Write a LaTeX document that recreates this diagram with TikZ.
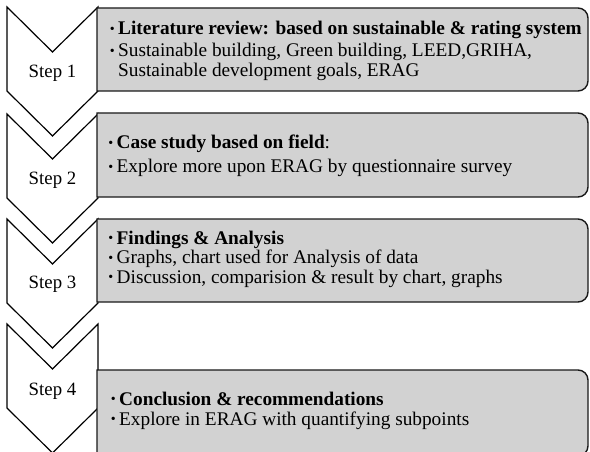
\documentclass[tikz,border=0pt]{standalone}
\usepackage{fontspec}
\setmainfont{Liberation Serif}
\definecolor{boxgray}{RGB}{210,210,210}
\definecolor{edge}{RGB}{25,25,25}
% small bullet hung to the left of a line
\newcommand{\hbul}{\llap{\raisebox{1.3pt}{\fontsize{14}{14}\selectfont\textbullet}\hspace{3.3pt}}}
\tikzset{
  chevron/.style={draw=black, fill=white, line width=1.2pt, line join=miter},
  stagebox/.style={draw=edge, fill=boxgray, line width=1.4pt},
  steplabel/.style={font=\fontsize{18.8}{20}\selectfont, inner sep=0pt, anchor=base},
  itemline/.style={font=\fontsize{19.3}{22}\selectfont, inner sep=0pt, anchor=base west}
}
\begin{document}
\begin{tikzpicture}[x=1pt,y=-1pt]
\useasboundingbox (0,0) rectangle (590,452);
\fill[white] (0,0) rectangle (590,452);

% chevrons: top corners at y=t, notch at t+45, sides down to t+84, tip at t+129
\foreach \t/\n in {7/1,114/2,219/3,324/4}{
  \draw[chevron] (7,\t) -- (52.5,\t+45) -- (98,\t) -- (98,\t+84) -- (52.5,\t+129) -- (7,\t+84) -- cycle;
}

% stage boxes, rounded on the right only
\draw[stagebox] (97,8) [rounded corners=10pt] -- (588,8) -- (588,91) [sharp corners] -- (97,91) -- cycle;
\draw[stagebox] (97,113) [rounded corners=10pt] -- (588,113) -- (588,197) [sharp corners] -- (97,197) -- cycle;
\draw[stagebox] (97,219) [rounded corners=10pt] -- (588,219) -- (588,302) [sharp corners] -- (97,302) -- cycle;
\draw[stagebox] (97,370) [rounded corners=10pt] -- (588,370) -- (588,456) [sharp corners] -- (97,456) -- cycle;

% step labels
\node[steplabel] (st1) at (52.5,78) {Step 1};
\node[steplabel] (st2) at (52.5,185) {Step 2};
\node[steplabel] (st3) at (52.5,288.5) {Step 3};
\node[steplabel] (st4) at (52.5,395) {Step 4};

% box 1
\node[itemline] (a1) at (118,35) {\hbul\textbf{Literature review: based on sustainable \& rating system}};
\node[itemline] (a2) at (118,56.5) {\hbul Sustainable building, Green building, LEED,GRIHA,};
\node[itemline] (a3) at (118,77) {Sustainable development goals, ERAG};

% box 2
\node[itemline] (b1) at (116.5,149) {\hbul\textbf{Case study based on field}:};
\node[itemline] (b2) at (116.5,172.5) {\hbul Explore more upon ERAG by questionnaire survey};

% box 3
\node[itemline] (c1) at (116.5,244) {\hbul\textbf{Findings \& Analysis}};
\node[itemline] (c2) at (116.5,263.5) {\hbul Graphs, chart used for Analysis of data};
\node[itemline] (c3) at (116.5,283) {\hbul Discussion, comparision \& result by chart, graphs};

% box 4
\node[itemline] (d1) at (119,405) {\hbul\textbf{Conclusion \& recommendations}};
\node[itemline] (d2) at (119,425) {\hbul Explore in ERAG with quantifying subpoints};
\end{tikzpicture}
\end{document}
